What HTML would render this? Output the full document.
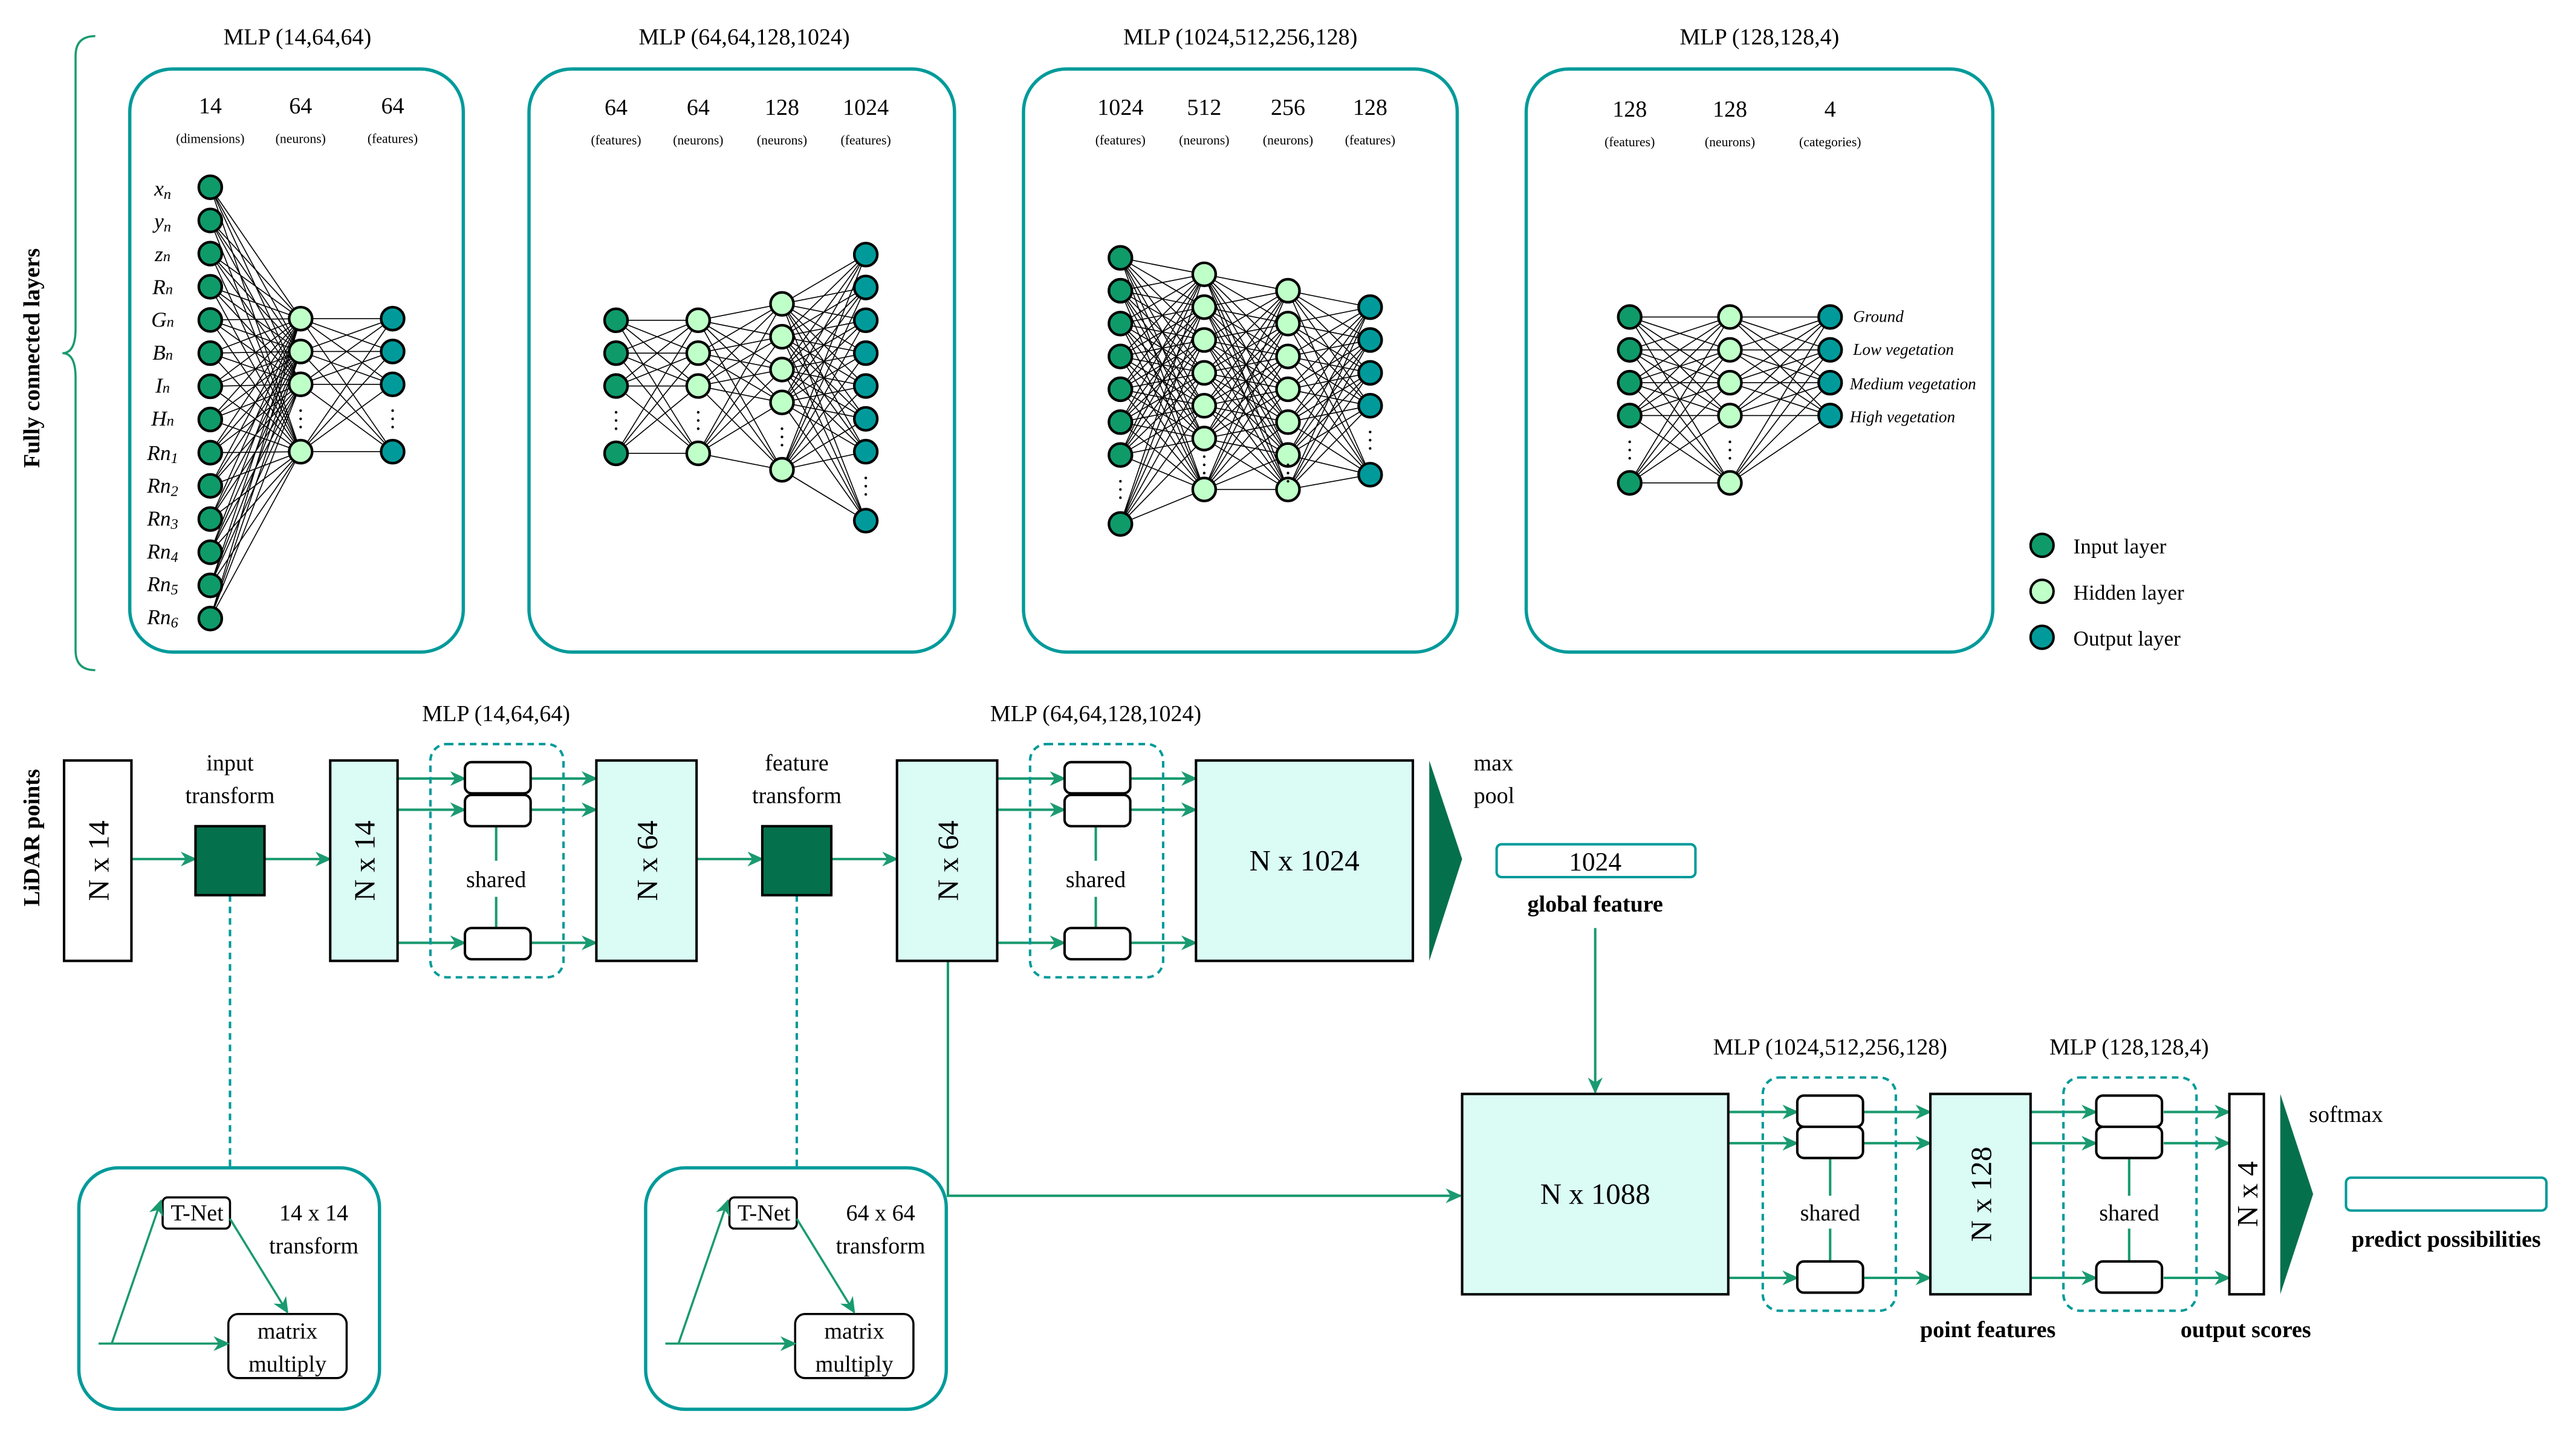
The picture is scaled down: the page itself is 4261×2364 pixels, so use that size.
<!DOCTYPE html>
<html><head><meta charset="utf-8"><style>
html,body{margin:0;padding:0;background:#fff}
svg{display:block}
text{font-family:"Liberation Serif",serif;fill:#000}
</style></head><body>
<svg id="s" width="4261" height="2364" viewBox="0 0 1568 870" preserveAspectRatio="none" xmlns="http://www.w3.org/2000/svg">
<defs>
<marker id="ar" markerWidth="10" markerHeight="10" refX="9" refY="5" orient="auto" markerUnits="userSpaceOnUse">
<path d="M0,0.5 L10,5 L0,9.5 L3,5 Z" fill="#1a9a70"/></marker>
</defs>
<rect width="1568" height="870" fill="#fff"/>
<g fill="none" stroke="#009a9a" stroke-width="2">
<rect x="79" y="42" width="203" height="355" rx="26"/>
<rect x="322" y="42" width="259" height="355" rx="26"/>
<rect x="623" y="42" width="264" height="355" rx="26"/>
<rect x="929" y="42" width="284" height="355" rx="26"/>
</g>
<g id="nets"></g>
<g font-size="14" text-anchor="middle">
<text x="181" y="27">MLP (14,64,64)</text>
<text x="453" y="27">MLP (64,64,128,1024)</text>
<text x="755" y="27">MLP (1024,512,256,128)</text>
<text x="1071" y="27">MLP (128,128,4)</text>
<text x="128" y="69">14</text><text x="183" y="69">64</text><text x="239" y="69">64</text>
<text x="375" y="70">64</text><text x="425" y="70">64</text><text x="476" y="70">128</text><text x="527" y="70">1024</text>
<text x="682" y="70">1024</text><text x="733" y="70">512</text><text x="784" y="70">256</text><text x="834" y="70">128</text>
<text x="992" y="71">128</text><text x="1053" y="71">128</text><text x="1114" y="71">4</text>
</g>
<g font-size="8" text-anchor="middle">
<text x="128" y="87">(dimensions)</text><text x="183" y="87">(neurons)</text><text x="239" y="87">(features)</text>
<text x="375" y="88">(features)</text><text x="425" y="88">(neurons)</text><text x="476" y="88">(neurons)</text><text x="527" y="88">(features)</text>
<text x="682" y="88">(features)</text><text x="733" y="88">(neurons)</text><text x="784" y="88">(neurons)</text><text x="834" y="88">(features)</text>
<text x="992" y="89">(features)</text><text x="1053" y="89">(neurons)</text><text x="1114" y="89">(categories)</text>
</g>
<g font-size="13" font-style="italic" text-anchor="middle">
<text x="99" y="119">x<tspan font-size="9" dy="2">n</tspan></text>
<text x="99" y="139">y<tspan font-size="9" dy="2">n</tspan></text>
<text x="99" y="159">z<tspan font-size="9" dy="0">n</tspan></text>
<text x="99" y="179">R<tspan font-size="9">n</tspan></text>
<text x="99" y="199">G<tspan font-size="9">n</tspan></text>
<text x="99" y="219">B<tspan font-size="9">n</tspan></text>
<text x="99" y="239">I<tspan font-size="9">n</tspan></text>
<text x="99" y="259">H<tspan font-size="9">n</tspan></text>
<text x="99" y="280">Rn<tspan font-size="9" dy="2">1</tspan></text>
<text x="99" y="300">Rn<tspan font-size="9" dy="2">2</tspan></text>
<text x="99" y="320">Rn<tspan font-size="9" dy="2">3</tspan></text>
<text x="99" y="340">Rn<tspan font-size="9" dy="2">4</tspan></text>
<text x="99" y="360">Rn<tspan font-size="9" dy="2">5</tspan></text>
<text x="99" y="380">Rn<tspan font-size="9" dy="2">6</tspan></text>
</g>
<g font-size="10" font-style="italic">
<text x="1128" y="196">Ground</text>
<text x="1128" y="216">Low vegetation</text>
<text x="1126" y="237">Medium vegetation</text>
<text x="1126" y="257">High vegetation</text>
</g>
<g stroke="#000" stroke-width="1.5">
<circle cx="1243" cy="332" r="7" fill="#0f9a6a"/>
<circle cx="1243" cy="360" r="7" fill="#bfffc8"/>
<circle cx="1243" cy="388" r="7" fill="#009a9a"/>
</g>
<g font-size="13"><text x="1262" y="337">Input layer</text><text x="1262" y="365">Hidden layer</text><text x="1262" y="393">Output layer</text></g>
<path d="M58,22 Q46,22 46,34 L46,200 Q46,215 38,215 Q46,215 46,230 L46,396 Q46,408 58,408" fill="none" stroke="#1a9a70" stroke-width="1.3"/>
<text transform="translate(24,218) rotate(-90)" font-size="14" font-weight="bold" text-anchor="middle">Fully connected layers</text>
<text transform="translate(24,510) rotate(-90)" font-size="14" font-weight="bold" text-anchor="middle">LiDAR points</text>

<g stroke="#1a9a70" stroke-width="1.5" fill="none">
<line x1="80" y1="523" x2="119" y2="523" marker-end="url(#ar)"/>
<line x1="161" y1="523" x2="201" y2="523" marker-end="url(#ar)"/>
<line x1="424" y1="523" x2="464" y2="523" marker-end="url(#ar)"/>
<line x1="506" y1="523" x2="546" y2="523" marker-end="url(#ar)"/>
<line x1="242" y1="474" x2="283" y2="474" marker-end="url(#ar)"/>
<line x1="242" y1="493" x2="283" y2="493" marker-end="url(#ar)"/>
<line x1="242" y1="574" x2="283" y2="574" marker-end="url(#ar)"/>
<line x1="323" y1="474" x2="363" y2="474" marker-end="url(#ar)"/>
<line x1="323" y1="493" x2="363" y2="493" marker-end="url(#ar)"/>
<line x1="323" y1="574" x2="363" y2="574" marker-end="url(#ar)"/>
<line x1="607" y1="474" x2="648" y2="474" marker-end="url(#ar)"/>
<line x1="607" y1="493" x2="648" y2="493" marker-end="url(#ar)"/>
<line x1="607" y1="574" x2="648" y2="574" marker-end="url(#ar)"/>
<line x1="688" y1="474" x2="728" y2="474" marker-end="url(#ar)"/>
<line x1="688" y1="493" x2="728" y2="493" marker-end="url(#ar)"/>
<line x1="688" y1="574" x2="728" y2="574" marker-end="url(#ar)"/>
<line x1="302" y1="503" x2="302" y2="524"/><line x1="302" y1="546" x2="302" y2="565"/>
<line x1="667" y1="503" x2="667" y2="524"/><line x1="667" y1="546" x2="667" y2="565"/>
<line x1="971" y1="565" x2="971" y2="665" marker-end="url(#ar)"/>
<polyline points="577,585 577,728 889,728" marker-end="url(#ar)"/>
<line x1="1052" y1="677" x2="1094" y2="677" marker-end="url(#ar)"/>
<line x1="1052" y1="696" x2="1094" y2="696" marker-end="url(#ar)"/>
<line x1="1052" y1="778" x2="1094" y2="778" marker-end="url(#ar)"/>
<line x1="1134" y1="677" x2="1175" y2="677" marker-end="url(#ar)"/>
<line x1="1134" y1="696" x2="1175" y2="696" marker-end="url(#ar)"/>
<line x1="1134" y1="778" x2="1175" y2="778" marker-end="url(#ar)"/>
<line x1="1236" y1="677" x2="1276" y2="677" marker-end="url(#ar)"/>
<line x1="1236" y1="696" x2="1276" y2="696" marker-end="url(#ar)"/>
<line x1="1236" y1="778" x2="1276" y2="778" marker-end="url(#ar)"/>
<line x1="1317" y1="677" x2="1357" y2="677" marker-end="url(#ar)"/>
<line x1="1317" y1="696" x2="1357" y2="696" marker-end="url(#ar)"/>
<line x1="1317" y1="778" x2="1357" y2="778" marker-end="url(#ar)"/>
<line x1="1114" y1="705" x2="1114" y2="728"/><line x1="1114" y1="748" x2="1114" y2="768"/>
<line x1="1296" y1="705" x2="1296" y2="728"/><line x1="1296" y1="748" x2="1296" y2="768"/>
</g>
<g stroke="#009a9a" stroke-width="1.5" fill="none" stroke-dasharray="4,3">
<rect x="262" y="453" width="81" height="142" rx="10"/>
<rect x="627" y="453" width="81" height="142" rx="10"/>
<rect x="1073" y="656" width="81" height="142" rx="10"/>
<rect x="1256" y="656" width="81" height="142" rx="10"/>
<line x1="140" y1="545" x2="140" y2="711"/>
<line x1="485" y1="545" x2="485" y2="711"/>
</g>
<g stroke="#000" stroke-width="1.5">
<rect x="39" y="463" width="41" height="122" fill="#fff"/>
<rect x="201" y="463" width="41" height="122" fill="#dafcf4"/>
<rect x="363" y="463" width="61" height="122" fill="#dafcf4"/>
<rect x="546" y="463" width="61" height="122" fill="#dafcf4"/>
<rect x="728" y="463" width="132" height="122" fill="#dafcf4"/>
<rect x="890" y="666" width="162" height="122" fill="#dafcf4"/>
<rect x="1175" y="666" width="61" height="122" fill="#dafcf4"/>
<rect x="1357" y="666" width="21" height="122" fill="#fff"/>
<rect x="119" y="503" width="42" height="42" fill="#05704c"/>
<rect x="464" y="503" width="42" height="42" fill="#05704c"/>
<g fill="#fff">
<rect x="283" y="464" width="40" height="19" rx="4"/><rect x="283" y="484" width="40" height="19" rx="4"/><rect x="283" y="565" width="40" height="19" rx="4"/>
<rect x="648" y="464" width="40" height="19" rx="4"/><rect x="648" y="484" width="40" height="19" rx="4"/><rect x="648" y="565" width="40" height="19" rx="4"/>
<rect x="1094" y="667" width="40" height="19" rx="4"/><rect x="1094" y="686" width="40" height="19" rx="4"/><rect x="1094" y="768" width="40" height="19" rx="4"/>
<rect x="1276" y="667" width="40" height="19" rx="4"/><rect x="1276" y="686" width="40" height="19" rx="4"/><rect x="1276" y="768" width="40" height="19" rx="4"/>
</g>
</g>
<polygon points="870,463 890,523 870,585" fill="#05704c"/>
<polygon points="1388,666 1408,727 1388,788" fill="#05704c"/>
<g fill="#fff" stroke="#009a9a" stroke-width="1.5">
<rect x="911" y="514" width="121" height="20" rx="3"/>
<rect x="1428" y="717" width="122" height="20" rx="3"/>
</g>
<g font-size="18" text-anchor="middle">
<text transform="translate(66,524) rotate(-90)">N x 14</text>
<text transform="translate(228,524) rotate(-90)">N x 14</text>
<text transform="translate(400,524) rotate(-90)">N x 64</text>
<text transform="translate(583,524) rotate(-90)">N x 64</text>
<text transform="translate(1212,727) rotate(-90)">N x 128</text>
<text transform="translate(1374,727) rotate(-90)">N x 4</text>
<text x="794" y="530">N x 1024</text>
<text x="971" y="733">N x 1088</text>
<text x="971" y="530" font-size="16">1024</text>
</g>
<g font-size="14" text-anchor="middle">
<text x="140" y="469">input</text><text x="140" y="489">transform</text>
<text x="485" y="469">feature</text><text x="485" y="489">transform</text>
<text x="302" y="540">shared</text><text x="667" y="540">shared</text>
<text x="1114" y="743">shared</text><text x="1296" y="743">shared</text>
<text x="302" y="439">MLP (14,64,64)</text>
<text x="667" y="439">MLP (64,64,128,1024)</text>
<text x="1114" y="642">MLP (1024,512,256,128)</text>
<text x="1296" y="642">MLP (128,128,4)</text>
<text x="1428" y="683">softmax</text>
</g>
<g font-size="14" text-anchor="start"><text x="897" y="469">max</text><text x="897" y="489">pool</text></g>
<g font-size="14" font-weight="bold" text-anchor="middle">
<text x="971" y="555">global feature</text>
<text x="1489" y="759">predict possibilities</text>
<text x="1210" y="814">point features</text>
<text x="1367" y="814">output scores</text>
</g>
<g>
<rect x="48" y="711" width="183" height="147" rx="24" fill="none" stroke="#009a9a" stroke-width="2"/>
<rect x="99" y="729" width="41" height="19" rx="3" fill="#fff" stroke="#000" stroke-width="1.3"/>
<rect x="139" y="800" width="72" height="39" rx="6" fill="#fff" stroke="#000" stroke-width="1.3"/>
<g stroke="#1a9a70" stroke-width="1.3" fill="none">
<line x1="60" y1="818" x2="139" y2="818" marker-end="url(#ar)"/>
<line x1="68" y1="818" x2="98" y2="731" marker-end="url(#ar)"/>
<line x1="140" y1="742" x2="175" y2="799" marker-end="url(#ar)"/>
</g>
<g font-size="14" text-anchor="middle">
<text x="120" y="743">T-Net</text>
<text x="191" y="743">14 x 14</text><text x="191" y="763">transform</text>
<text x="175" y="815">matrix</text><text x="175" y="835">multiply</text>
</g>
</g>
<g transform="translate(345,0)">
<rect x="48" y="711" width="183" height="147" rx="24" fill="none" stroke="#009a9a" stroke-width="2"/>
<rect x="99" y="729" width="41" height="19" rx="3" fill="#fff" stroke="#000" stroke-width="1.3"/>
<rect x="139" y="800" width="72" height="39" rx="6" fill="#fff" stroke="#000" stroke-width="1.3"/>
<g stroke="#1a9a70" stroke-width="1.3" fill="none">
<line x1="60" y1="818" x2="139" y2="818" marker-end="url(#ar)"/>
<line x1="68" y1="818" x2="98" y2="731" marker-end="url(#ar)"/>
<line x1="140" y1="742" x2="175" y2="799" marker-end="url(#ar)"/>
</g>
<g font-size="14" text-anchor="middle">
<text x="120" y="743">T-Net</text>
<text x="191" y="743">64 x 64</text><text x="191" y="763">transform</text>
<text x="175" y="815">matrix</text><text x="175" y="835">multiply</text>
</g>
</g>
</svg>
<script>
(function(){
var g=document.getElementById("nets");
var C={i:"#0f9a6a",h:"#bfffc8",o:"#009a9a"};
function seq(a,n){var r=[];for(var k=0;k<n;k++)r.push(a+k*20.2);return r;}
var nets=[
 [[128,seq(114,14),null,"i"],[183,[194,214,234,275],255,"h"],[239,[194,214,234,275],255,"o"]],
 [[375,[195,215,235,276],256,"i"],[425,[195,215,235,276],256,"h"],[476,[185,205,225,245,286],266,"h"],[527,[155,175,195,215,235,255,275,317],296,"o"]],
 [[682,[157,177,197,217,237,257,277,319],298,"i"],[733,[167,187,207,227,247,267,298],283,"h"],[784,[177,197,217,237,257,277,298],288,"h"],[834,[187,207,227,247,289],268,"o"]],
 [[992,[193,213,233,253,294],274,"i"],[1053,[193,213,233,253,294],274,"h"],[1114,[193,213,233,253],null,"o"]]
];
var lines="",circ="",txt="";
nets.forEach(function(n){
 for(var l=0;l<n.length-1;l++){var A=n[l],B=n[l+1];
  A[1].forEach(function(y1){B[1].forEach(function(y2){lines+='<line x1="'+A[0]+'" y1="'+y1+'" x2="'+B[0]+'" y2="'+y2+'"/>';});});}
 n.forEach(function(L){L[1].forEach(function(y){circ+='<circle cx="'+L[0]+'" cy="'+y+'" r="7" fill="'+C[L[3]]+'"/>';});
  if(L[2])txt+='<circle cx="'+L[0]+'" cy="'+(L[2]-5)+'" r="0.8"/><circle cx="'+L[0]+'" cy="'+L[2]+'" r="0.8"/><circle cx="'+L[0]+'" cy="'+(L[2]+5)+'" r="0.8"/>';});
});
g.innerHTML='<g stroke="#000" stroke-width="0.6">'+lines+'</g><g stroke="#000" stroke-width="1.6">'+circ+'</g><g fill="#000">'+txt+'</g>';
})();
</script>
</body></html>
